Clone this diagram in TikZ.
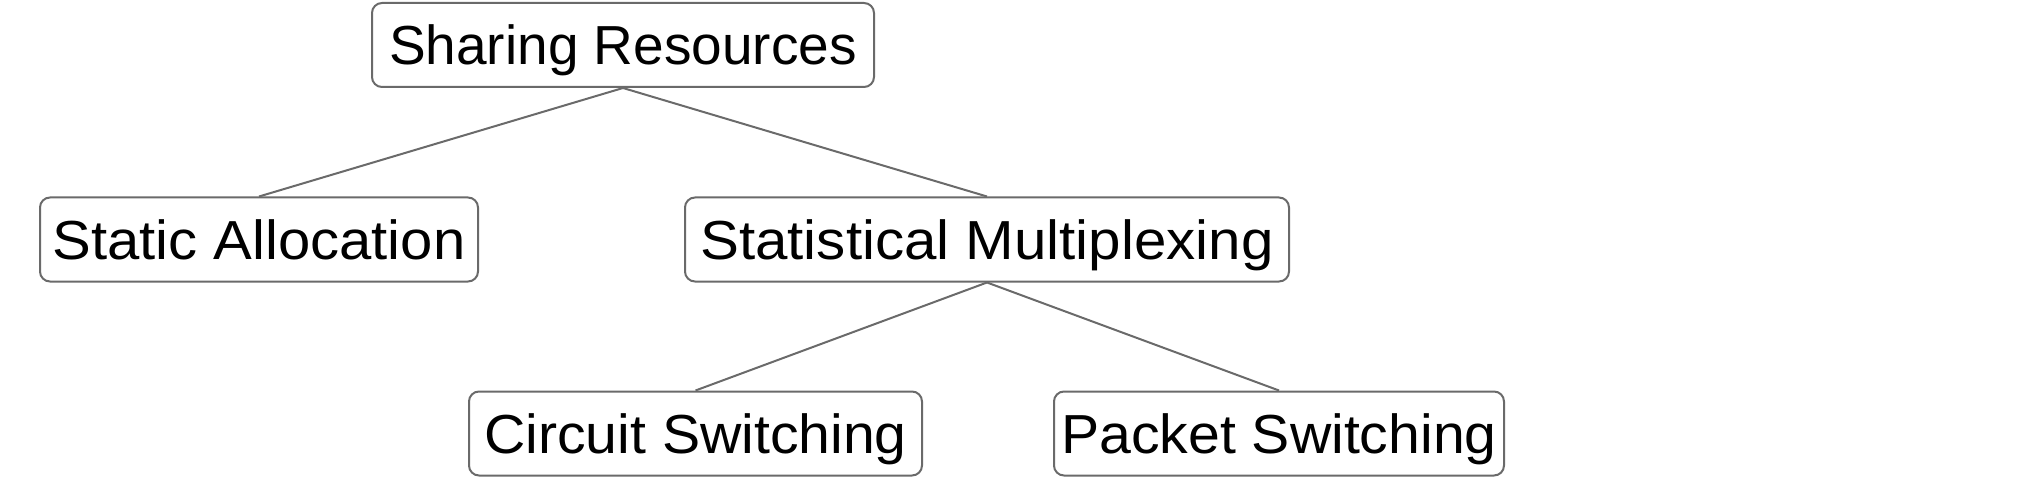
\documentclass[tikz,border=0pt]{standalone}
\usepackage{fontspec}
\setmainfont{Liberation Sans}
\definecolor{edgegray}{HTML}{6A6A6A}
\tikzset{
  box/.style={draw=edgegray, line width=2pt, rounded corners=10pt, fill=white,
    font=\fontsize{55}{60}\selectfont, text height=40pt, text depth=0pt,
    minimum height=84pt, inner xsep=0pt, anchor=center},
  link/.style={draw=edgegray, line width=2pt}
}
\begin{document}
\begin{tikzpicture}[x=1pt,y=-1pt]
\useasboundingbox (0,0) rectangle (2022,481);
\node[box, minimum width=502pt] (sr) at (623,45) {Sharing Resources};
\node[box, minimum width=438pt] (sa) at (259,239.5) {\scalebox{1.055}[1]{Static Allocation}};
\node[box, minimum width=604pt] (sm) at (987,239.5) {\scalebox{1.06}[1]{Statistical Multiplexing}};
\node[box, minimum width=453pt] (cs) at (695.5,433.5) {\scalebox{1.04}[1]{Circuit Switching}};
\node[box, minimum width=450pt] (ps) at (1279,433.5) {\scalebox{1.04}[1]{Packet Switching}};
\draw[link] (sr.south) -- (sa.north);
\draw[link] (sr.south) -- (sm.north);
\draw[link] (sm.south) -- (cs.north);
\draw[link] (sm.south) -- (ps.north);
\end{tikzpicture}
\end{document}
